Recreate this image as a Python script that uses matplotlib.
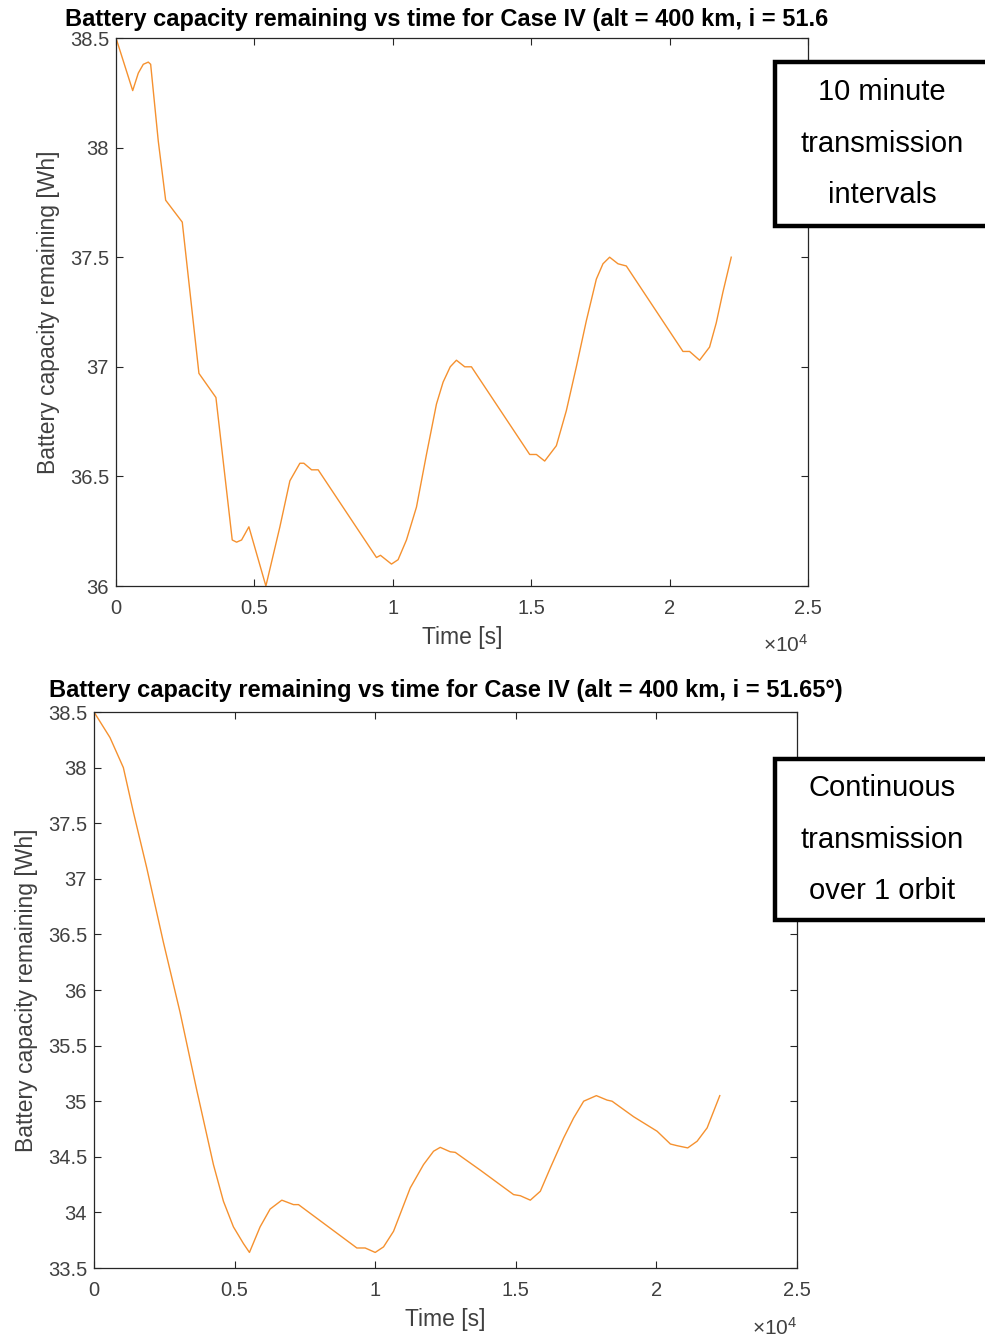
import matplotlib
matplotlib.use("Agg")
import matplotlib.pyplot as plt
from matplotlib.patches import Rectangle
from matplotlib.transforms import Bbox, TransformedBbox

# ==========================================
# Data
# ==========================================

title_text = "Battery capacity remaining vs time for Case IV (alt = 400 km, i = 51.65°)"

# Case IV - 10 minute transmission intervals
t_interval = [0, 603, 806, 986, 1166, 1252, 1527, 1794, 2394, 2996, 3610, 4199,
              4357, 4537, 4801, 5415, 5921, 6282, 6643, 6787, 7065, 7304, 9410,
              9555, 9952, 10191, 10494, 10855, 11216, 11577, 11817, 12075, 12299,
              12599, 12841, 14946, 15188, 15487, 15909, 16270, 16631, 16992, 17353,
              17593, 17834, 18135, 18436, 20483, 20722, 21083, 21444, 21685, 21925,
              22227]
cap_interval = [38.5, 38.26, 38.34, 38.38, 38.39, 38.38, 38.03, 37.76, 37.66, 36.97,
                36.86, 36.21, 36.2, 36.21, 36.27, 36.0, 36.27, 36.48, 36.56, 36.56,
                36.53, 36.53, 36.13, 36.14, 36.1, 36.12, 36.21, 36.36, 36.6, 36.83,
                36.93, 37.0, 37.03, 37.0, 37.0, 36.6, 36.6, 36.57, 36.64, 36.8, 37.0,
                37.21, 37.4, 37.47, 37.5, 37.47, 37.46, 37.07, 37.07, 37.03, 37.09,
                37.2, 37.34, 37.5]

# Case IV - continuous transmission over 1 orbit
t_cont = [0, 569, 1044, 1400, 1874, 2467, 3060, 3654, 4247, 4603, 4958, 5314, 5528,
          5907, 6263, 6679, 7094, 7272, 9348, 9644, 10000, 10297, 10652, 11246,
          11719, 12075, 12313, 12669, 12847, 13737, 14922, 15160, 15516, 15872,
          16228, 16702, 17058, 17414, 17865, 18245, 18423, 19192, 20024, 20498,
          20735, 21114, 21448, 21804, 22254]
cap_cont = [38.5, 38.27, 38.0, 37.6, 37.1, 36.43, 35.8, 35.1, 34.43, 34.1, 33.87,
            33.72, 33.64, 33.87, 34.03, 34.11, 34.07, 34.07, 33.68, 33.68, 33.64,
            33.69, 33.83, 34.22, 34.43, 34.55, 34.585, 34.545, 34.54, 34.38, 34.16,
            34.15, 34.11, 34.19, 34.4, 34.67, 34.85, 35.0, 35.05, 35.01, 35.0, 34.86,
            34.73, 34.615, 34.6, 34.58, 34.64, 34.76, 35.05]

x_ticks = [0, 5000, 10000, 15000, 20000, 25000]
x_tick_labels = ["0", "0.5", "1", "1.5", "2", "2.5"]
y_ticks_top = [36, 36.5, 37, 37.5, 38, 38.5]
y_ticks_bot = [33.5, 34, 34.5, 35, 35.5, 36, 36.5, 37, 37.5, 38, 38.5]

box_top_text = "10 minute\ntransmission\nintervals"
box_bot_text = "Continuous\ntransmission\nover 1 orbit"

# ==========================================
# Style
# ==========================================

plt.rcParams['font.family'] = ['Liberation Sans', 'DejaVu Sans']
plt.rcParams['mathtext.fontset'] = 'custom'
plt.rcParams['mathtext.rm'] = 'Liberation Sans'

line_color = '#F5912F'
axis_color = '#262626'
tick_color = '#404040'

W, H = 985, 1338
fig = plt.figure(figsize=(W / 100, H / 100), dpi=100)


def px_axes(left, top, right, bottom):
    return fig.add_axes([left / W, 1 - bottom / H, (right - left) / W, (bottom - top) / H])


def style_axes(ax, yticks, ymin, ymax):
    ax.set_xlim(0, 25000)
    ax.set_ylim(ymin, ymax)
    ax.set_xticks(x_ticks)
    ax.set_xticklabels(x_tick_labels)
    ax.set_yticks(yticks)
    ax.set_yticklabels([f"{v:g}" for v in yticks])
    ax.tick_params(direction='in', length=5, width=0.8, top=True, right=True,
                   labelsize=14.5, colors=axis_color, labelcolor=tick_color)
    ax.tick_params(axis='x', pad=9)
    ax.tick_params(axis='y', pad=5)
    for s in ax.spines.values():
        s.set_color(axis_color)
        s.set_linewidth(0.9)
    ax.set_xlabel("Time [s]", fontsize=16.5, color=tick_color, labelpad=6)
    ax.set_ylabel("Battery capacity remaining [Wh]", fontsize=16.5, color=tick_color, labelpad=7)
    ax.text(1.0, -0.088, r"$\times\mathregular{10^{4}}$", transform=ax.transAxes,
            ha='right', va='top', fontsize=15, color=tick_color)


# ==========================================
# Top plot: 10 minute transmission intervals
# ==========================================

ax1 = px_axes(116, 38, 808, 586)
ax1.plot(t_interval, cap_interval, color=line_color, linewidth=1.0)
style_axes(ax1, y_ticks_top, 36, 38.5)
t1 = ax1.set_title(title_text, fontsize=17, fontweight='bold', pad=9)
t1.set_clip_box(TransformedBbox(Bbox([[0, 0], [828 / W, 1]]), fig.transFigure))
t1.set_clip_on(True)

# ==========================================
# Bottom plot: continuous transmission
# ==========================================

ax2 = px_axes(94, 712, 797, 1268)
ax2.plot(t_cont, cap_cont, color=line_color, linewidth=1.0)
style_axes(ax2, y_ticks_bot, 33.5, 38.5)
ax2.set_title(title_text, fontsize=17, fontweight='bold', pad=11)

# ==========================================
# Annotation boxes
# ==========================================

for top, bottom, txt in [(61.5, 225.5, box_top_text), (759, 920, box_bot_text)]:
    fig.patches.append(Rectangle((774.5 / W, 1 - bottom / H), 0.5, (bottom - top) / H,
                                 transform=fig.transFigure, facecolor='white',
                                 edgecolor='black', linewidth=3.2, zorder=5))
    fig.text(882 / W, 1 - (top + bottom) / 2 / H, txt, ha='center', va='center',
             fontsize=21, linespacing=2.05, color='black', zorder=6)

plt.savefig("out.png", dpi=100)
